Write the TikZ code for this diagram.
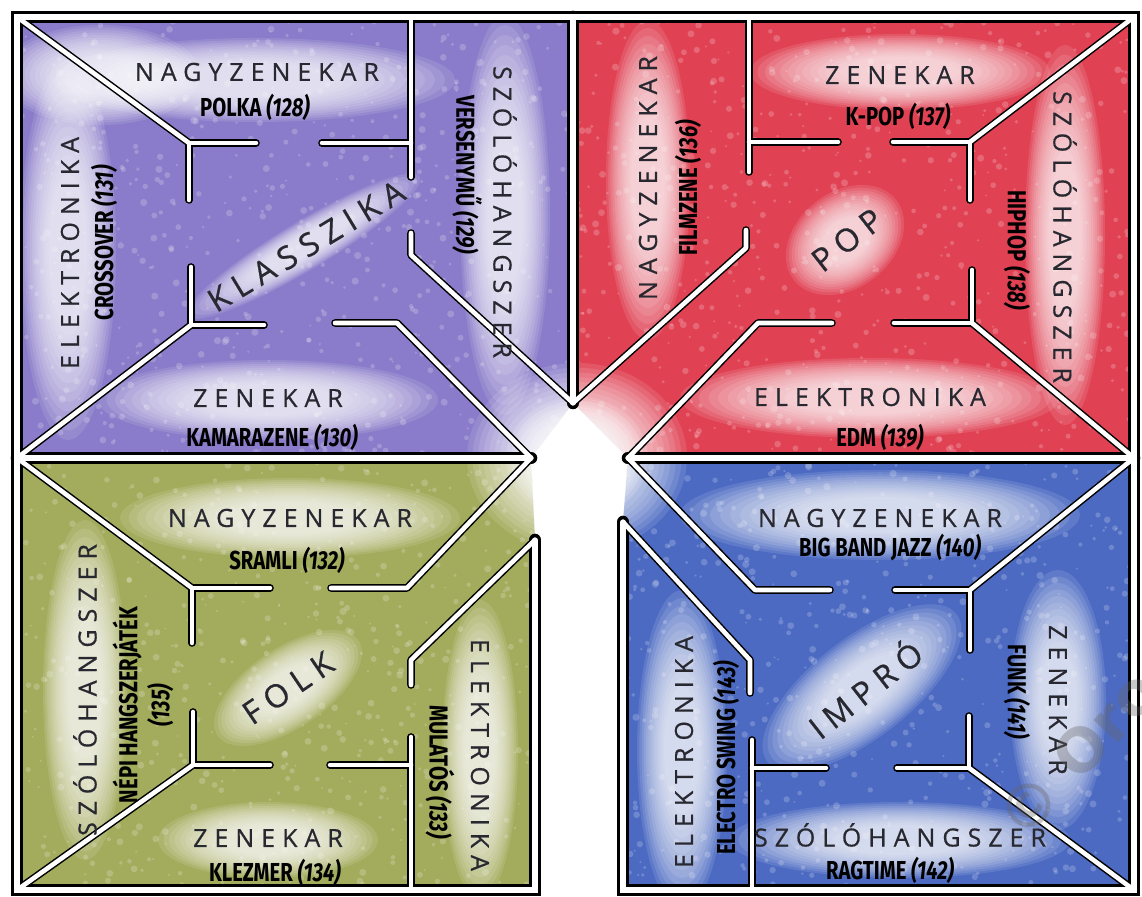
\documentclass[tikz,border=0pt]{standalone}
\usepackage{fontspec}
\newfontfamily\hand[LetterSpace=28,FakeBold=0.6]{Open Sans}
\newfontfamily\handbig[LetterSpace=25,FakeBold=0.6]{Open Sans}
\newfontfamily\cond[FakeStretch=0.78]{Fira Sans}
\newfontfamily\wmfont{DejaVu Sans}
\definecolor{purp}{RGB}{138,124,202}
\definecolor{redq}{RGB}{224,66,84}
\definecolor{greenq}{RGB}{163,171,92}
\definecolor{blueq}{RGB}{76,106,194}
\definecolor{handc}{RGB}{40,40,48}
\pgfdeclarelayer{wallblack}
\pgfdeclarelayer{wallwhite}
\pgfdeclarelayer{labels}
\pgfsetlayers{main,wallblack,wallwhite,labels}
\tikzset{
  owb/.style={draw=black, line width=6.3pt, line join=miter, line cap=round},
  oww/.style={draw=white, line width=2.6pt, line join=miter, line cap=round},
  iwb/.style={draw=black, line width=3.8pt, line join=round, line cap=round},
  iww/.style={draw=white, line width=2.3pt, line join=round, line cap=round},
  hl/.style={font=\hand\fontsize{12.5}{14}\selectfont, text=handc, inner sep=0pt},
  big/.style={font=\handbig\fontsize{16}{18}\selectfont, text=handc, inner sep=0pt},
  lb/.style={font=\cond\bfseries\fontsize{13}{16}\selectfont, text=black, inner sep=0pt},
}
\newcommand\owall[1]{\begin{pgfonlayer}{wallblack}\draw[owb] #1;\end{pgfonlayer}\begin{pgfonlayer}{wallwhite}\draw[oww] #1;\end{pgfonlayer}}
\newcommand\iwall[1]{\begin{pgfonlayer}{wallblack}\draw[iwb] #1;\end{pgfonlayer}\begin{pgfonlayer}{wallwhite}\draw[iww] #1;\end{pgfonlayer}}
\newcommand\glow[5]{\foreach \s in {1.0,0.95,...,0.35}{\fill[white, opacity=0.11, rotate around={#5:(#1,#2)}] (#1,#2) ellipse [x radius={#3*\s}, y radius={#4*\s}];}}
\newcommand\speckle[2]{\foreach \i in {1,...,650}{\pgfmathsetmacro\px{#1+rnd*560}\pgfmathsetmacro\py{#2+rnd*440}\pgfmathsetmacro\pr{1+rnd*2.6}\fill[white, opacity=0.2] (\px,\py) circle [radius=\pr];}}
\begin{document}
\begin{tikzpicture}[x=0.5pt,y=-0.5pt]
\pgfmathsetseed{7}
\useasboundingbox (0,0) rectangle (1142,897);
\fill[white] (0,0) rectangle (1142,897);
% quadrant fills with crayon grain
\begin{scope}
\clip (17,17) -- (573,17) -- (573,403) -- (531,458) -- (17,458) -- cycle;
\fill[purp] (0,0) rectangle (600,470);
\speckle{15}{15}
\end{scope}
\begin{scope}
\clip (573,17) -- (1134,17) -- (1134,458) -- (628,458) -- (573,403) -- cycle;
\fill[redq] (560,0) rectangle (1142,470);
\speckle{575}{15}
\end{scope}
\begin{scope}
\clip (17,458) -- (531,458) -- (535,540) -- (535,890) -- (17,890) -- cycle;
\fill[greenq] (0,450) rectangle (560,897);
\speckle{15}{455}
\end{scope}
\begin{scope}
\clip (628,458) -- (1134,458) -- (1134,890) -- (623,890) -- (623,522) -- cycle;
\fill[blueq] (600,450) rectangle (1142,897);
\speckle{600}{455}
\end{scope}
% soft white glows
\glow{255}{80}{200}{42}{0}
\glow{268}{400}{170}{40}{0}
\glow{505}{215}{45}{200}{0}
\glow{68}{250}{48}{190}{0}
\glow{100}{75}{100}{50}{0}
\glow{304}{246}{135}{24}{31}
\glow{648}{180}{42}{160}{0}
\glow{900}{72}{150}{38}{0}
\glow{1065}{235}{40}{190}{0}
\glow{870}{398}{190}{40}{0}
\glow{845}{240}{65}{48}{38}
\glow{290}{518}{170}{40}{0}
\glow{85}{690}{42}{170}{0}
\glow{288}{688}{85}{40}{34}
\glow{268}{840}{110}{38}{0}
\glow{480}{750}{38}{150}{0}
\glow{880}{515}{200}{45}{0}
\glow{1058}{700}{48}{130}{0}
\glow{862}{688}{120}{50}{38}
\glow{682}{750}{45}{160}{0}
\glow{900}{840}{170}{38}{0}
\glow{577}{458}{110}{95}{0}
\glow{577}{458}{70}{60}{0}
% outer frame walls
\owall{(535,540) -- (535,890) -- (17,890) -- (17,17) -- (1134,17) -- (1134,890) -- (623,890) -- (623,522)}
\owall{(17,458) -- (531,458)}
\owall{(628,458) -- (1134,458)}
\owall{(573,17) -- (573,403)}
% Q1 klasszika
\iwall{(17,17) -- (189,143)}
\iwall{(189,143) -- (256,143)}
\iwall{(189,143) -- (189,200)}
\iwall{(411,17) -- (411,177)}
\iwall{(322,143) -- (411,143)}
\iwall{(411,233) -- (411,255) -- (573,403)}
\iwall{(191,267) -- (191,325)}
\iwall{(191,325) -- (264,325)}
\iwall{(191,325) -- (17,458)}
\iwall{(335,323) -- (397,323) -- (531,458)}
% Q2 pop
\iwall{(749,17) -- (749,172)}
\iwall{(749,142) -- (838,142)}
\iwall{(893,142) -- (970,142)}
\iwall{(970,142) -- (1134,17)}
\iwall{(970,142) -- (970,200)}
\iwall{(746,230) -- (746,248) -- (573,403)}
\iwall{(832,323) -- (758,323) -- (628,458)}
\iwall{(894,323) -- (972,323)}
\iwall{(972,270) -- (972,323)}
\iwall{(972,323) -- (1134,458)}
% Q3 folk
\iwall{(17,458) -- (192,588)}
\iwall{(192,588) -- (270,588)}
\iwall{(192,588) -- (192,643)}
\iwall{(331,588) -- (407,588) -- (531,458)}
\iwall{(411,685) -- (411,660) -- (535,540)}
\iwall{(330,765) -- (411,765)}
\iwall{(411,737) -- (411,890)}
\iwall{(193,712) -- (193,765)}
\iwall{(193,765) -- (270,765)}
\iwall{(193,765) -- (17,890)}
% Q4 impro
\iwall{(628,458) -- (755,590) -- (830,590)}
\iwall{(895,590) -- (970,590)}
\iwall{(970,590) -- (1134,458)}
\iwall{(970,590) -- (970,650)}
\iwall{(623,522) -- (750,660) -- (750,693)}
\iwall{(752,740) -- (752,890)}
\iwall{(752,768) -- (826,768)}
\iwall{(897,768) -- (969,768)}
\iwall{(969,716) -- (969,768)}
\iwall{(969,768) -- (1134,890)}
\begin{pgfonlayer}{labels}
% Q1
\node[hl] (q1n) at (257,72) {NAGYZENEKAR};
\node[lb] (q1nl) at (255,107) {POLKA \textit{(128)}};
\node[hl, rotate=-90] (q1s) at (505,212) {SZÓLÓHANGSZER};
\node[lb, rotate=-90] (q1sl) at (467,175) {VERSENYMŰ \textit{(129)}};
\node[hl, rotate=90] (q1e) at (70,253) {ELEKTRONIKA};
\node[lb, rotate=90] (q1el) at (104,243) {CROSSOVER \textit{(131)}};
\node[big, rotate=31] (q1c) at (306,246) {KLASSZIKA};
\node[hl] (q1z) at (268,398) {ZENEKAR};
\node[lb] (q1zl) at (272,437) {KAMARAZENE \textit{(130)}};
% Q2
\node[hl, rotate=90] (q2n) at (648,178) {NAGYZENEKAR};
\node[lb, rotate=90] (q2nl) at (688,188) {FILMZENE \textit{(136)}};
\node[hl] (q2z) at (900,75) {ZENEKAR};
\node[lb] (q2zl) at (898,116) {K-POP \textit{(137)}};
\node[hl, rotate=-90] (q2s) at (1065,237) {SZÓLÓHANGSZER};
\node[lb, rotate=-90] (q2sl) at (1017,250) {HIPHOP \textit{(138)}};
\node[big, rotate=38] (q2c) at (847,240) {POP};
\node[hl] (q2e) at (870,397) {ELEKTRONIKA};
\node[lb] (q2el) at (880,437) {EDM \textit{(139)}};
% Q3
\node[hl] (q3n) at (290,518) {NAGYZENEKAR};
\node[lb] (q3nl) at (287,560) {SRAMLI \textit{(132)}};
\node[hl, rotate=90] (q3s) at (85,690) {SZÓLÓHANGSZER};
\node[lb, rotate=90, align=center] (q3sl) at (143,705) {NÉPI HANGSZERJÁTÉK\\\textit{(135)}};
\node[big, rotate=34] (q3c) at (288,688) {FOLK};
\node[hl, rotate=-90] (q3e) at (480,755) {ELEKTRONIKA};
\node[lb, rotate=-90] (q3el) at (440,772) {MULATÓS \textit{(133)}};
\node[hl] (q3z) at (268,838) {ZENEKAR};
\node[lb] (q3zl) at (275,872) {KLEZMER \textit{(134)}};
% Q4
\node[hl] (q4n) at (880,518) {NAGYZENEKAR};
\node[lb] (q4nl) at (890,548) {BIG BAND JAZZ \textit{(140)}};
\node[hl, rotate=-90] (q4z) at (1058,700) {ZENEKAR};
\node[lb, rotate=-90] (q4zl) at (1017,692) {FUNK \textit{(141)}};
\node[big, rotate=38] (q4c) at (864,688) {IMPRÓ};
\node[hl, rotate=90] (q4e) at (684,752) {ELEKTRONIKA};
\node[lb, rotate=90] (q4el) at (726,758) {ELECTRO SWING \textit{(143)}};
\node[hl] (q4s) at (900,835) {SZÓLÓHANGSZER};
\node[lb] (q4sl) at (890,870) {RAGTIME \textit{(142)}};
% watermark
\node[font=\wmfont\bfseries\fontsize{30}{30}\selectfont, text=gray!80!black, opacity=0.35, rotate=47, anchor=west, inner sep=0pt] (wm) at (1008,828) {© Oro};
\end{pgfonlayer}
\end{tikzpicture}
\end{document}
